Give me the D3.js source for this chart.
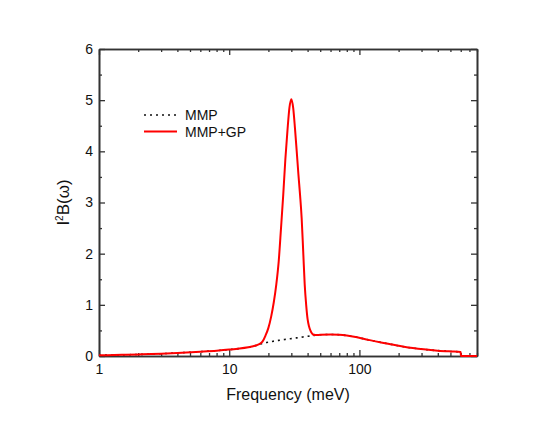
<!DOCTYPE html>
<html>
<head>
<meta charset="utf-8">
<script src="https://cdn.jsdelivr.net/npm/d3@7"></script>
<style>
  body { margin: 0; background: #fff; }
  text { font-family: "Liberation Sans", Arial, sans-serif; fill: #111; }
</style>
</head>
<body>
<div id="chart"></div>
<script>
// frequencies (meV) and spectral function values
const freq = [1, 1.5, 2, 3, 4, 6, 8, 10, 12, 14, 15, 16, 17, 18, 19, 20, 21, 22, 23, 24, 25, 26, 27, 28, 29, 30,
  31, 32, 33, 34, 35, 36, 37, 38, 39, 40, 41, 42, 43, 44, 46, 50, 60, 70, 80, 96, 120, 150, 173, 220, 312, 400, 500, 600, 601, 800];
const mmpGp = [0.015, 0.022, 0.03, 0.045, 0.06, 0.085, 0.105, 0.125, 0.145, 0.17, 0.185, 0.205, 0.23, 0.28, 0.4, 0.55, 0.77, 1.05, 1.4, 1.85, 2.5, 3.15, 3.85, 4.4, 4.85, 5.02,
  4.85, 4.45, 4.0, 3.55, 3.15, 2.7, 2.05, 1.4, 1.0, 0.72, 0.58, 0.5, 0.45, 0.42, 0.41, 0.415, 0.42, 0.415, 0.4, 0.365, 0.31, 0.26, 0.23, 0.18, 0.13, 0.105, 0.09, 0.08, 0, 0];
const mmp = [0.015, 0.022, 0.03, 0.045, 0.06, 0.085, 0.105, 0.125, 0.145, 0.17, 0.185, 0.205, 0.23, 0.245, 0.258, 0.27, 0.28, 0.29, 0.298, 0.305, 0.31, 0.318, 0.325, 0.332, 0.337, 0.34,
  0.345, 0.35, 0.355, 0.36, 0.365, 0.369, 0.373, 0.377, 0.381, 0.385, 0.389, 0.393, 0.397, 0.4, 0.405, 0.415, 0.42, 0.415, 0.4, 0.365, 0.31, 0.26, 0.23, 0.18, 0.13, 0.105, 0.09, 0.08, 0, 0];
const xDomain = [1, 800];
const yTicks = [0, 1, 2, 3, 4, 5, 6];
const xLabelTicks = [1, 10, 100];
const seriesNames = ["MMP", "MMP+GP"];

const width = 554, height = 428;
const margin = {top: 49, right: 77, bottom: 72, left: 99};

const svg = d3.select("#chart").append("svg")
  .attr("width", width)
  .attr("height", height);

const x = d3.scaleLog().domain(xDomain).range([margin.left, width - margin.right]);
const y = d3.scaleLinear().domain([0, 6]).range([height - margin.bottom, margin.top]);

const minorX = [];
for (let d = 1; d <= 100; d *= 10) {
  for (let k = 1; k <= 9; k++) {
    const v = d * k;
    if (v >= xDomain[0] && v <= xDomain[1] && xLabelTicks.indexOf(v) < 0) minorX.push(v);
  }
}
const minorY = d3.range(0.5, 6, 1);

// bottom axis
const gx = svg.append("g").attr("transform", `translate(0,${y(0)})`);
gx.call(d3.axisBottom(x).tickValues(xLabelTicks).tickFormat(d3.format("d")).tickSizeInner(-6).tickSizeOuter(0).tickPadding(8));
gx.append("g").call(d3.axisBottom(x).tickValues(minorX).tickFormat("").tickSizeInner(-3).tickSizeOuter(0));
// top axis
const gxt = svg.append("g").attr("transform", `translate(0,${y(6)})`);
gxt.call(d3.axisTop(x).tickValues(xLabelTicks).tickFormat("").tickSizeInner(-6).tickSizeOuter(0));
gxt.append("g").call(d3.axisTop(x).tickValues(minorX).tickFormat("").tickSizeInner(-3).tickSizeOuter(0));
// left axis
const gy = svg.append("g").attr("transform", `translate(${x(xDomain[0])},0)`);
gy.call(d3.axisLeft(y).tickValues(yTicks).tickFormat(d3.format("d")).tickSizeInner(-6).tickSizeOuter(0).tickPadding(6));
gy.append("g").call(d3.axisLeft(y).tickValues(minorY).tickFormat("").tickSizeInner(-3).tickSizeOuter(0));
// right axis
const gyr = svg.append("g").attr("transform", `translate(${x(xDomain[1])},0)`);
gyr.call(d3.axisRight(y).tickValues(yTicks).tickFormat("").tickSizeInner(-6).tickSizeOuter(0));
gyr.append("g").call(d3.axisRight(y).tickValues(minorY).tickFormat("").tickSizeInner(-3).tickSizeOuter(0));

svg.selectAll(".domain").attr("stroke", "#333").attr("stroke-width", 1.6);
svg.selectAll(".tick line").attr("stroke", "#333").attr("stroke-width", 1.3);
svg.selectAll(".tick text").style("font-size", "14px").style("font-family", "Liberation Sans, Arial, sans-serif").attr("fill", "#111");

const line = d3.line()
  .x(d => x(d[0]))
  .y(d => y(d[1]))
  .curve(d3.curveMonotoneX);

svg.append("path")
  .datum(freq.map((f, i) => [f, mmp[i]]))
  .attr("d", line)
  .attr("fill", "none")
  .attr("stroke", "#111")
  .attr("stroke-width", 1.6)
  .attr("stroke-dasharray", "2,4");

svg.append("path")
  .datum(freq.map((f, i) => [f, mmpGp[i]]))
  .attr("d", line)
  .attr("fill", "none")
  .attr("stroke", "#ff0000")
  .attr("stroke-width", 2);

// legend
const legend = svg.append("g");
[{dash: "2,4", color: "#111", w: 1.6}, {dash: null, color: "#ff0000", w: 2}].forEach((s, i) => {
  const ly = 115 + i * 16.5;
  legend.append("line")
    .attr("x1", 144).attr("x2", 177).attr("y1", ly).attr("y2", ly)
    .attr("stroke", s.color).attr("stroke-width", s.w)
    .attr("stroke-dasharray", s.dash);
  legend.append("text")
    .attr("x", 185).attr("y", ly + 5)
    .style("font-size", "14px")
    .text(seriesNames[i]);
});

// axis titles
svg.append("text")
  .attr("x", (x(xDomain[0]) + x(xDomain[1])) / 2)
  .attr("y", 400)
  .attr("text-anchor", "middle")
  .style("font-size", "16px")
  .text("Frequency (meV)");

const yt = svg.append("text")
  .attr("transform", `translate(69,${(y(0) + y(6)) / 2}) rotate(-90)`)
  .attr("text-anchor", "middle")
  .style("font-size", "17px");
yt.append("tspan").text("I");
yt.append("tspan").attr("dy", -6).style("font-size", "10px").text("2");
yt.append("tspan").attr("dy", 6).text("B(ω)");
</script>
</body>
</html>
